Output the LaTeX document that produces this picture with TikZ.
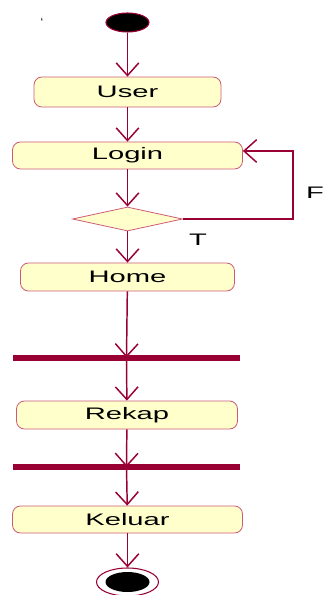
\documentclass[tikz,border=0pt]{standalone}
\usepackage{fontspec}
\usepackage{graphicx}
\setmainfont{Liberation Sans}
\usetikzlibrary{shapes.geometric,arrows.meta}
\definecolor{maroon}{RGB}{153,0,51}
\definecolor{boxline}{RGB}{205,90,120}
\definecolor{boxfill}{RGB}{255,255,204}
\newcommand{\widetext}[1]{\scalebox{1.75}[1]{#1}}
\tikzset{
  act/.style={draw=boxline, fill=boxfill, line width=0.6pt, rounded corners=6pt, font=\fontsize{12.5}{14}\selectfont, inner sep=0pt},
  bar/.style={draw=none, fill=maroon, inner sep=0pt, minimum width=170.25pt, minimum height=4.5pt},
  flow/.style={draw=maroon, line width=1.1pt, -{Straight Barb[length=9.5pt,width=17pt,line width=1.1pt]}},
  lbl/.style={font=\fontsize{12.5}{14}\selectfont, inner sep=0pt}
}
\begin{document}
\begin{tikzpicture}[x=0.75pt,y=-0.75pt]
\useasboundingbox (0,0) rectangle (325,595);
\node[lbl,font=\small] (tick) at (42,22) {`};
\node[ellipse, fill=black, draw=maroon, line width=0.8pt, minimum width=32.25pt, minimum height=14.25pt, inner sep=0pt] (start) at (127.5,22.5) {};
\node[act, minimum width=140.25pt, minimum height=22.5pt] (user) at (127.5,92) {\widetext{User}};
\node[act, minimum width=172.5pt, minimum height=20.25pt] (login) at (127.5,155.5) {\widetext{Login}};
\node[diamond, draw=boxline, fill=boxfill, line width=0.6pt, minimum width=82.5pt, minimum height=18pt, inner sep=0pt] (dec) at (127.5,219) {};
\node[act, minimum width=160.5pt, minimum height=21pt] (home) at (127.5,277) {\widetext{Home}};
\node[bar] (bar1) at (126.5,357.5) {};
\node[act, minimum width=165.75pt, minimum height=21pt] (rekap) at (127,415) {\widetext{Rekap}};
\node[bar] (bar2) at (126.5,467) {};
\node[act, minimum width=172.5pt, minimum height=20.25pt] (keluar) at (127.5,519.5) {\widetext{Keluar}};
\node[ellipse, draw=maroon, fill=white, line width=0.8pt, minimum width=46.5pt, minimum height=21pt, inner sep=0pt] (endo) at (127.5,582) {};
\node[ellipse, fill=black, minimum width=33pt, minimum height=15pt, inner sep=0pt] (endi) at (127.5,582) {};
\node[lbl] (F) at (315,193) {\widetext{F}};
\node[lbl] (T) at (198,240) {\widetext{T}};
\coordinate (fc) at (293,151);
\draw[flow] (start) -- (user);
\draw[flow] (user) -- (login);
\draw[flow] (login) -- (dec);
\draw[flow] (dec) -- (home);
\draw[flow] (home) -- (bar1.center);
\draw[flow] (bar1.center) -- (rekap);
\draw[flow] (rekap) -- (bar2.center);
\draw[flow] (bar2.center) -- (keluar);
\draw[flow] (keluar) -- (endo);
\draw[flow, line width=0.9pt] (dec.east) -| (fc) -- (login.east |- fc);
\end{tikzpicture}
\end{document}
